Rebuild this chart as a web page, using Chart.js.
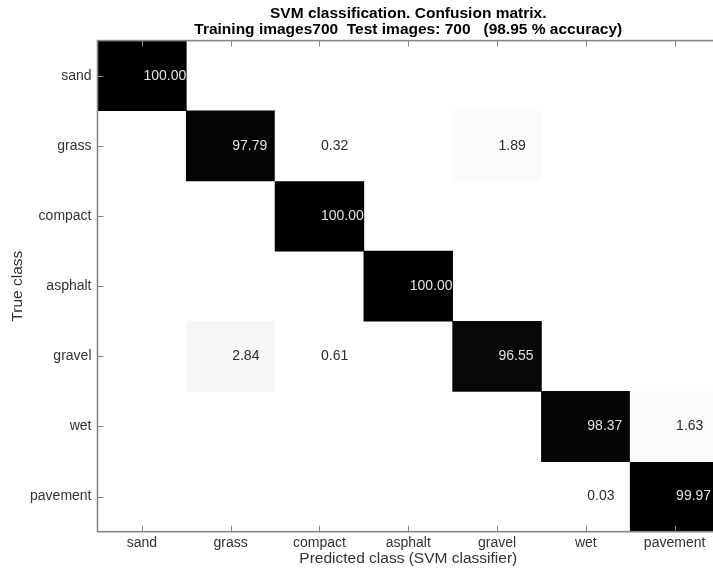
<!DOCTYPE html>
<html>
<head>
<meta charset="utf-8">
<script src="https://cdn.jsdelivr.net/npm/chart.js@4"></script>
<style>
  html, body { margin: 0; padding: 0; background: #fff; overflow: hidden; }
  #wrap { width: 720px; height: 570px; }
</style>
</head>
<body>
<div id="wrap"><canvas id="cm" width="720" height="570"></canvas></div>
<script>
const predictedClasses = ['sand', 'grass', 'compact', 'asphalt', 'gravel', 'wet', 'pavement'];
const trueClasses = ['sand', 'grass', 'compact', 'asphalt', 'gravel', 'wet', 'pavement'];

// percent of each true class assigned to each predicted class
const rowSand     = [100, 0, 0, 0, 0, 0, 0];
const rowGrass    = [0, 97.79, 0.32, 0, 1.89, 0, 0];
const rowCompact  = [0, 0, 100, 0, 0, 0, 0];
const rowAsphalt  = [0, 0, 0, 100, 0, 0, 0];
const rowGravel   = [0, 2.84, 0.61, 0, 96.55, 0, 0];
const rowWet      = [0, 0, 0, 0, 0, 98.37, 1.63];
const rowPavement = [0, 0, 0, 0, 0, 0.03, 99.97];
const matrix = [rowSand, rowGrass, rowCompact, rowAsphalt, rowGravel, rowWet, rowPavement];

const titleLines = [
    'SVM classification. Confusion matrix.',
    'Training images700  Test images: 700   (98.95 % accuracy)'
];

const FONT = '"Liberation Sans", Arial, Helvetica, sans-serif';

// inverted 64 level gray colormap: white for 0 %, black for 100 %
const cellColor = (v) => {
    const level = Math.round(v / 100 * 63);
    const g = Math.round(255 * (1 - level / 63));
    return `rgb(${g},${g},${g})`;
};

const cellText = {
    id: 'cellText',
    afterDatasetsDraw(chart) {
        const { ctx, scales: { x, y } } = chart;
        ctx.save();
        ctx.font = '14px ' + FONT;
        ctx.textAlign = 'left';
        ctx.textBaseline = 'middle';
        matrix.forEach((row, r) => {
            row.forEach((v, j) => {
                if (!v) return;
                ctx.fillStyle = v > 50 ? '#e2e2e2' : '#2b2b2b';
                ctx.fillText(v.toFixed(2), x.getPixelForValue(j) + 1.5, y.getPixelForValue(r + 0.5));
            });
        });
        ctx.restore();
    }
};

// matlab style box with inward ticks on all four sides
const axesBox = {
    id: 'axesBox',
    afterDraw(chart) {
        const { ctx, chartArea: a, scales: { x, y } } = chart;
        ctx.save();
        ctx.strokeStyle = '#868686';
        ctx.lineWidth = 1.6;
        ctx.strokeRect(a.left, a.top, a.right - a.left, a.bottom - a.top);
        ctx.lineWidth = 1;
        ctx.beginPath();
        predictedClasses.forEach((c, j) => {
            const px = Math.round(x.getPixelForValue(j)) + 0.5;
            ctx.moveTo(px, a.bottom);
            ctx.lineTo(px, a.bottom - 6);
            ctx.moveTo(px, a.top);
            ctx.lineTo(px, a.top + 6);
        });
        trueClasses.forEach((c, r) => {
            const py = Math.round(y.getPixelForValue(r + 0.5)) + 0.5;
            ctx.moveTo(a.left, py);
            ctx.lineTo(a.left + 6, py);
            ctx.moveTo(a.right, py);
            ctx.lineTo(a.right - 6, py);
        });
        ctx.stroke();
        ctx.restore();
    }
};

new Chart(document.getElementById('cm'), {
    type: 'bar',
    data: {
        labels: predictedClasses,
        datasets: matrix.map((row, r) => ({
            label: trueClasses[r],
            data: row.map((v) => (v > 0 ? [r, r + 1] : null)),
            backgroundColor: row.map(cellColor),
            borderWidth: 0,
            grouped: false,
            barPercentage: 1,
            categoryPercentage: 1
        }))
    },
    options: {
        responsive: false,
        animation: false,
        devicePixelRatio: 1,
        layout: { padding: { right: 1 } },
        scales: {
            x: {
                grid: { display: false, drawTicks: false },
                border: { display: false },
                ticks: { color: '#333', font: { family: FONT, size: 14 }, padding: 3 },
                title: {
                    display: true,
                    text: 'Predicted class (SVM classifier)',
                    color: '#333',
                    font: { family: FONT, size: 15.5 },
                    padding: { top: 0, bottom: 2.4 }
                },
                afterFit: (scale) => { scale.height = 38.3; }
            },
            y: {
                type: 'linear',
                min: 0,
                max: trueClasses.length,
                reverse: true,
                grid: { display: false, drawTicks: false },
                border: { display: false },
                afterBuildTicks: (scale) => {
                    scale.ticks = trueClasses.map((c, i) => ({ value: i + 0.5 }));
                },
                ticks: {
                    color: '#333',
                    font: { family: FONT, size: 14 },
                    padding: 6,
                    autoSkip: false,
                    callback: (value) => trueClasses[Math.floor(value)]
                },
                title: {
                    display: true,
                    text: 'True class',
                    color: '#333',
                    font: { family: FONT, size: 15.5 },
                    padding: { top: 8.7, bottom: 0 }
                },
                afterFit: (scale) => { scale.width = 97.5; }
            }
        },
        plugins: {
            legend: { display: false },
            tooltip: { enabled: false },
            title: {
                display: true,
                fullSize: false,
                text: titleLines,
                color: '#000',
                font: { family: FONT, size: 15.5, weight: 'bold', lineHeight: 1.03 },
                padding: { top: 6, bottom: 2.7 }
            }
        }
    },
    plugins: [cellText, axesBox]
});
</script>
</body>
</html>
